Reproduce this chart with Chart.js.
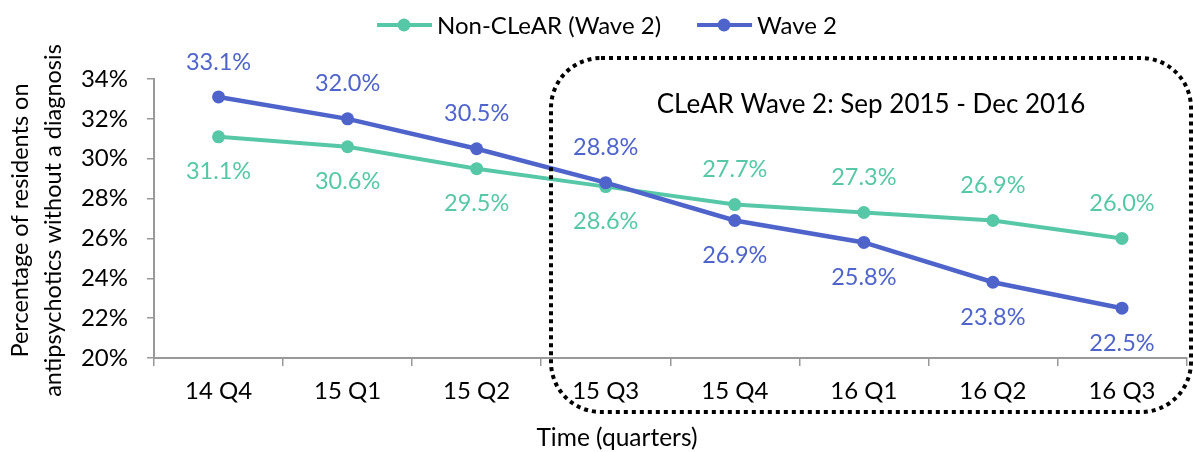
<!DOCTYPE html>
<html>
<head>
<meta charset="utf-8">
<script src="https://cdn.jsdelivr.net/npm/chart.js@4"></script>
<style>
  html, body { margin: 0; padding: 0; background: #fff; }
  #wrap { width: 1193px; height: 452px; position: relative; }
</style>
</head>
<body>
<div id="wrap"><canvas id="chart"></canvas></div>
<script>
'use strict';

// ── Data ─────────────────────────────────────────────────────────────
const quarters   = ['14 Q4', '15 Q1', '15 Q2', '15 Q3', '15 Q4', '16 Q1', '16 Q2', '16 Q3'];
const nonClear   = [31.1, 30.6, 29.5, 28.6, 27.7, 27.3, 26.9, 26.0];
const wave2      = [33.1, 32.0, 30.5, 28.8, 26.9, 25.8, 23.8, 22.5];
const yTicks     = [20, 22, 24, 26, 28, 30, 32, 34];
const seriesNames = ['Non-CLeAR (Wave 2)', 'Wave 2'];
const yTitle     = ['Percentage of residents on', 'antipsychotics without a diagnosis'];
const xTitle     = 'Time (quarters)';
const boxLabel   = 'CLeAR Wave 2: Sep 2015 - Dec 2016';

// label placement per point: 1 = above, -1 = below
const nonClearSide = [-1, -1, -1, -1, 1, 1, 1, 1];
const wave2Side    = [1, 1, 1, 1, -1, -1, -1, -1];

const TEAL = '#57C8A7';
const BLUE = '#4F64CB';
const AXIS = '#999999';
const FONT = 'Lato, "Open Sans", sans-serif';

// ── Extras: legend, titles, value labels, dotted box ────────────────
const extras = {
  id: 'extras',
  afterDraw(chart) {
    const ctx = chart.ctx;
    const ca  = chart.chartArea;
    ctx.save();

    // value labels
    ctx.font = '23.5px ' + FONT;
    ctx.textAlign = 'center';
    ctx.textBaseline = 'middle';
    [[0, nonClearSide, TEAL], [1, wave2Side, BLUE]].forEach(([di, sides, col]) => {
      const meta = chart.getDatasetMeta(di);
      const vals = chart.data.datasets[di].data;
      ctx.fillStyle = col;
      meta.data.forEach((pt, i) => {
        ctx.fillText(vals[i].toFixed(1) + '%', pt.x, pt.y - sides[i] * 35);
      });
    });

    // legend
    ctx.font = '24px ' + FONT;
    ctx.textAlign = 'left';
    ctx.fillStyle = '#000';
    let lx = 377;
    const ly = 25;
    [[seriesNames[0], TEAL], [seriesNames[1], BLUE]].forEach(([name, col]) => {
      ctx.strokeStyle = col;
      ctx.lineWidth = 4;
      ctx.beginPath(); ctx.moveTo(lx, ly); ctx.lineTo(lx + 55, ly); ctx.stroke();
      ctx.fillStyle = col;
      ctx.beginPath(); ctx.arc(lx + 27, ly, 6.5, 0, Math.PI * 2); ctx.fill();
      ctx.fillStyle = '#000';
      ctx.fillText(name, lx + 60, ly + 1);
      lx += 60 + ctx.measureText(name).width + 36;
    });

    // axis titles
    ctx.font = '24.5px ' + FONT;
    ctx.textAlign = 'center';
    ctx.fillText(xTitle, 617, 438);
    ctx.font = '23.5px ' + FONT;
    const cy = (ca.top + ca.bottom) / 2 + 2;
    ctx.save();
    ctx.translate(20, cy); ctx.rotate(-Math.PI / 2);
    ctx.fillText(yTitle[0], 0, 0);
    ctx.restore();
    ctx.save();
    ctx.translate(53, cy); ctx.rotate(-Math.PI / 2);
    ctx.fillText(yTitle[1], 0, 0);
    ctx.restore();

    // dotted rounded box marking the CLeAR period
    ctx.strokeStyle = '#000';
    ctx.lineWidth = 4;
    ctx.setLineDash([4, 4]);
    ctx.beginPath();
    ctx.roundRect(551, 58, 640, 354, 50);
    ctx.stroke();
    ctx.setLineDash([]);
    ctx.font = '26px ' + FONT;
    ctx.fillStyle = '#000';
    ctx.fillText(boxLabel, 871, 105);

    ctx.restore();
  }
};

new Chart(document.getElementById('chart'), {
  type: 'line',
  data: {
    labels: quarters,
    datasets: [
      {
        label: seriesNames[0], data: nonClear, order: 1,
        borderColor: TEAL, backgroundColor: TEAL, borderWidth: 4,
        pointRadius: 6.5, pointBackgroundColor: TEAL, pointBorderWidth: 0, tension: 0,
      },
      {
        label: seriesNames[1], data: wave2, order: 0,
        borderColor: BLUE, backgroundColor: BLUE, borderWidth: 4.5,
        pointRadius: 6.5, pointBackgroundColor: BLUE, pointBorderWidth: 0, tension: 0,
      },
    ],
  },
  options: {
    responsive: true, maintainAspectRatio: false, animation: false,
    layout: { padding: { top: 79, right: 0, bottom: 0, left: 0 } },
    plugins: { legend: { display: false }, tooltip: { enabled: false } },
    scales: {
      x: {
        offset: true,
        grid: { display: true, offset: true, drawOnChartArea: false, tickLength: 8, color: AXIS, lineWidth: 1.5 },
        border: { color: AXIS, width: 2 },
        ticks: { color: '#000', font: { family: FONT, size: 24 }, padding: 11, maxRotation: 0 },
        afterFit: s => { s.height = 94; },
      },
      y: {
        min: yTicks[0], max: yTicks[yTicks.length - 1],
        afterBuildTicks: s => { s.ticks = yTicks.map(v => ({ value: v })); },
        grid: { drawOnChartArea: false, tickLength: 7, color: AXIS, lineWidth: 1.5 },
        border: { color: AXIS, width: 2 },
        ticks: { color: '#000', font: { family: FONT, size: 24 }, padding: 19, callback: v => v + '%' },
        afterFit: s => { s.width = 154; },
      },
    },
  },
  plugins: [extras],
});
</script>
</body>
</html>
